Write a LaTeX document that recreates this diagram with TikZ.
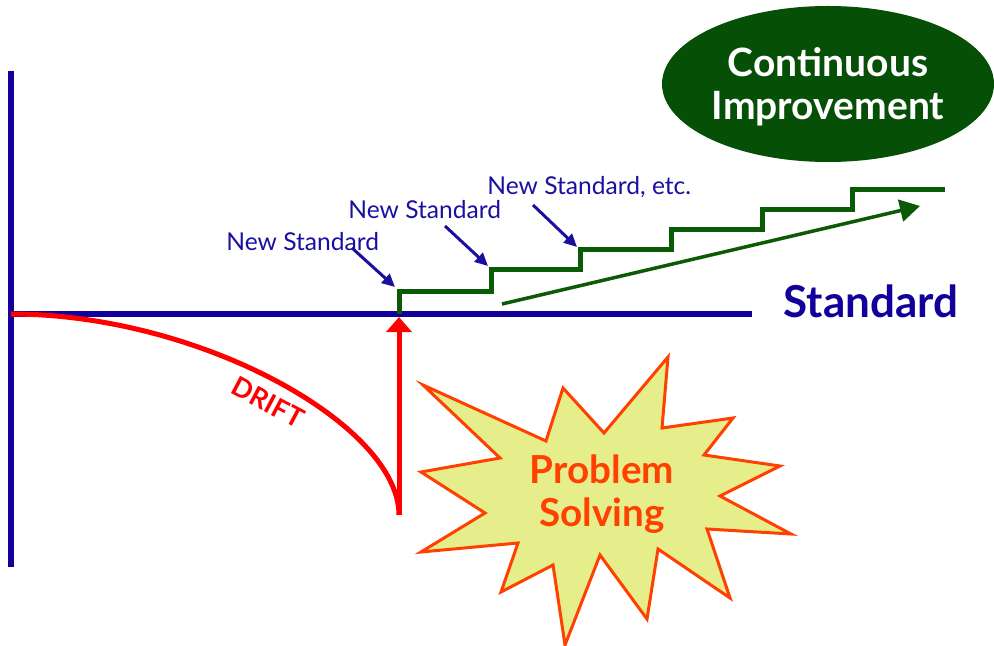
\documentclass[tikz,border=0pt]{standalone}
\usepackage{fontspec}
\setmainfont{Lato}
\usetikzlibrary{arrows.meta, positioning, shapes.geometric}
\definecolor{axisblue}{HTML}{13009A}
\definecolor{labelblue}{HTML}{1A10A0}
\definecolor{stairgreen}{HTML}{0B5A05}
\definecolor{ovalgreen}{HTML}{064F06}
\definecolor{driftred}{HTML}{FF0000}
\definecolor{burstfill}{HTML}{E6EE8C}
\definecolor{burstline}{HTML}{FF4000}

\begin{document}
\begin{tikzpicture}[
x=0.5pt, y=-0.5pt,
axis/.style={line width=3pt, axisblue},
stair/.style={line width=2.5pt, stairgreen},
pointer/.style={-{Triangle[length=6.5pt, width=6pt]}, line width=1.5pt, labelblue},
newstd/.style={text=labelblue, anchor=west, inner sep=0pt, font=\fontsize{12.3}{14}\selectfont},
oval/.style={ellipse, fill=ovalgreen, text=white, inner sep=0pt, minimum width=166pt, minimum height=78pt, align=center, text depth=0pt, font=\bfseries\fontsize{19.5}{21.5}\selectfont}
]
    \useasboundingbox (0,0) rectangle (994,646);

    % axes
    \coordinate (top) at (11,71);
    \coordinate (bottom) at (11,567);
    \coordinate (origin) at (11,314);
    \coordinate (fix) at (399,314);
    \coordinate (right) at (752,314);
    \draw[axis] (top) -- (bottom);
    \draw[axis] (origin) -- (right);
    \node[anchor=west, text=axisblue, inner sep=0pt, font=\bfseries\fontsize{22}{26}\selectfont] (std) at (783,301) {Standard};

    % drift and problem solving
    \coordinate (low) at (399,515);
    \draw[line width=2.5pt, driftred] (origin) .. controls (200,314) and (399,425) .. (low);
    \node[rotate=-28, text=driftred, font=\bfseries\fontsize{13.5}{15}\selectfont] (drift) at (268,402) {DRIFT};
    \draw[-{Triangle[length=7.5pt, width=12.5pt]}, line width=2.5pt, driftred] (low) -- ([yshift=-1.5pt]fix);

    \draw[line width=1.5pt, burstline, fill=burstfill]
        (423,385) -- (546,441) -- (563,388) -- (604,433) -- (668,357) -- (662,428)
        -- (733,418) -- (704,455) -- (780,466) -- (720,496) -- (791,534) -- (707,529)
        -- (730,598) -- (658,549) -- (647,619) -- (600,555) -- (565,645) -- (553,565)
        -- (501,592) -- (518,543) -- (421,552) -- (485,513) -- (421,472) -- (500,458) -- cycle;
    \node[text=burstline, align=center, font=\bfseries\fontsize{19.3}{21.5}\selectfont] (ps) at (602,494) {Problem\\Solving};

    % new standards
    \draw[stair] (fix) |- (491,292) |- (580,270) |- (671,250) |- (762,230) |- (852,210) |- (945,190);
    \coordinate (c1) at (395,287);
    \coordinate (c2) at (488,266);
    \coordinate (c3) at (577,247);
    \node[newstd] (ns1) at (226,242) {New Standard};
    \node[newstd] (ns2) at (348,210) {New Standard};
    \node[newstd] (ns3) at (487,187) {New Standard, etc.};
    \coordinate (t1) at (352,248);
    \coordinate (t2) at (445,226);
    \coordinate (t3) at (533,205);
    \draw[pointer] (t1) -- (c1);
    \draw[pointer] (t2) -- (c2);
    \draw[pointer] (t3) -- (c3);

    \coordinate (trend0) at (502,304);
    \coordinate (trend1) at (920,206);
    \draw[-{Triangle[length=10pt, width=11pt]}, line width=1.75pt, stairgreen] (trend0) -- (trend1);

    \node[oval] (ci) at (828,84) {Continuous\\Improvement};
\end{tikzpicture}
\end{document}
